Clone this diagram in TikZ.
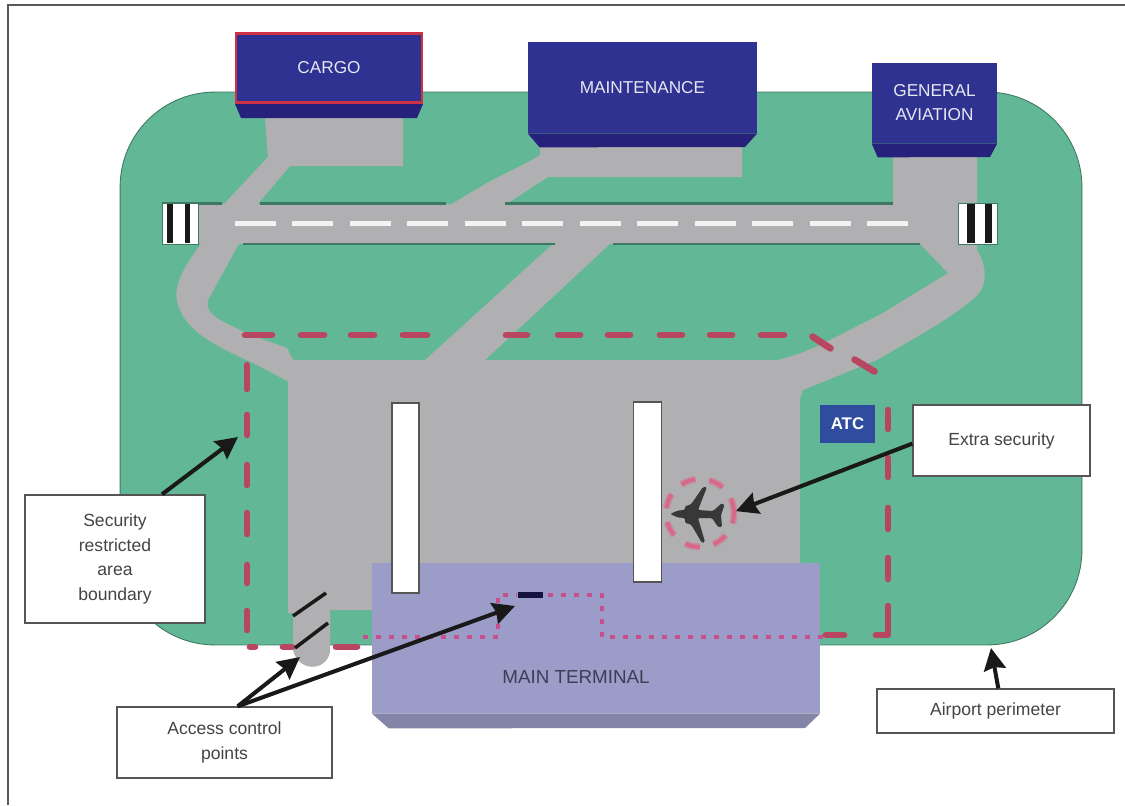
\documentclass[tikz,border=0pt]{standalone}
\usepackage{fontspec}
\setmainfont{Liberation Sans}
\usetikzlibrary{arrows.meta}
\definecolor{figGrass}{RGB}{98,184,150}
\definecolor{figGrassEdge}{RGB}{62,120,98}
\definecolor{figPave}{RGB}{176,176,178}
\definecolor{figNavy}{RGB}{47,50,144}
\definecolor{figNavyDark}{RGB}{38,34,124}
\definecolor{figRed}{RGB}{184,70,96}
\definecolor{figPink}{RGB}{198,80,140}
\definecolor{figRing}{RGB}{216,104,136}
\definecolor{figTerminal}{RGB}{156,156,200}
\definecolor{figTerminalDark}{RGB}{132,132,166}
\definecolor{figBoxEdge}{RGB}{85,85,85}
\definecolor{figText}{RGB}{68,68,68}
\definecolor{figAtc}{RGB}{47,76,158}
\tikzset{
  building/.style={
    rectangle, fill=figNavy, text=white!88!figNavy, align=center, inner sep=0pt,
    font=\fontsize{9.8pt}{13.6pt}\selectfont
  },
  buildingbase/.style={fill=figNavyDark},
  pave/.style={fill=figPave},
  callout/.style={
    rectangle, draw=figBoxEdge, line width=0.8pt, fill=white, text=figText,
    align=center, inner sep=0pt, font=\fontsize{10pt}{14pt}\selectfont
  },
  pointer/.style={-{Stealth[inset=0.05cm,length=0.44cm,width=0.44cm]}, line width=2.3pt, draw=black!90},
  boundary/.style={line width=3.8pt, draw=figRed, line cap=round, shorten >=0.06cm, shorten <=0.06cm},
  boundarydot/.style={line width=2.8pt, draw=figPink, dash pattern=on 0.1cm off 0.16cm},
  edgeline/.style={line width=1.3pt, draw=figGrassEdge},
  gatebar/.style={line width=2pt, draw=black!90}
}
\begin{document}
\begin{tikzpicture}[x=0.02cm,y=-0.02cm]
  \useasboundingbox (0,0) rectangle (1125,805);
  \draw[line width=1pt, draw=black!65] (8,805) -- (8,5) -- (1125,5);
  \node[rectangle, rounded corners=1.9cm, fill=figGrass, draw=figGrassEdge, line width=0.5pt,
    minimum width=19.24cm, minimum height=11.06cm] (airfield) at (601,368.5) {};
  % paved areas
  \fill[pave] (288,360) -- (777,360) -- (803,390) -- (800,398) -- (800,565) -- (372,565) -- (372,610)
    -- (330,610) -- (330,652) .. controls (326,672) and (298,672) .. (293,650) -- (293,613) -- (288,613) -- cycle;
  \fill[pave] (265,118) -- (403,118) -- (403,166) -- (290,166) -- (257,205) -- (223,205) -- (268,157) -- cycle;
  \fill[pave] (450,205) -- (480,187) .. controls (500,175) and (525,165) .. (540,155) -- (540,147) -- (742,147)
    -- (742,177) -- (548,177) -- (505,205) -- cycle;
  \fill[pave] (423,362) -- (555,242) -- (612,242) -- (483,362) -- cycle;
  \fill[pave] (205,240) -- (200,245) .. controls (182,270) and (170,290) .. (180,310)
    .. controls (190,335) and (225,350) .. (253,363) -- (295,385) -- (293,360) -- (287,348)
    .. controls (265,340) and (250,335) .. (240,330) .. controls (220,320) and (205,315) .. (208,300)
    -- (240,242) -- cycle;
  \fill[pave] (893,157) -- (977,157) -- (977,250) .. controls (985,262) and (988,280) .. (980,292)
    .. controls (965,310) and (920,335) .. (877,360) -- (803,390) -- (760,395) -- (760,360) -- (777,360)
    .. controls (800,355) and (820,345) .. (830,340) -- (883,313) -- (948,273) -- (920,244) -- (893,205) -- cycle;
  % runway
  \fill[pave] (198,204) rectangle (958,244);
  \foreach \x/\xx in {162/222, 260/446, 505/893}
    \draw[edgeline] (\x,203.5) -- (\xx,203.5);
  \foreach \x/\xx in {243/555, 613/920}
    \draw[edgeline] (\x,244) -- (\xx,244);
  \foreach \n in {0,...,11}
    \fill[white!85!figPave] ({235+57.45*\n},220.5) rectangle ++(41,5);
  \fill[white, draw=figGrassEdge, line width=0.5pt] (162,203.5) rectangle (198,244);
  \fill[white, draw=figGrassEdge, line width=0.5pt] (958,203.5) rectangle (997,244);
  \foreach \x/\w in {167/6, 185/5, 967/8, 985/7}
    \fill[black!90] (\x,204) rectangle ++(\w,39);
  % buildings
  \node[building, draw=figRed!70!red, line width=1.2pt, minimum width=3.72cm, minimum height=1.38cm] (cargo) at (329,68) {CARGO};
  \fill[buildingbase] (235,104) -- (241,118) -- (417,118) -- (423,104) -- cycle;
  \node[building, minimum width=4.58cm, minimum height=1.82cm] (maintenance) at (642.5,87.5) {MAINTENANCE};
  \fill[buildingbase] (maintenance.south west) -- ++(12,14) -- (745,147) -- (maintenance.south east) -- cycle;
  \node[building, minimum width=2.5cm, minimum height=1.6cm] (aviation) at (934.5,103) {GENERAL\\AVIATION};
  \fill[buildingbase] (aviation.south west) -- ++(6,14) -- (990,157) -- (aviation.south east) -- cycle;
  \node[rectangle, fill=figTerminal, minimum width=8.96cm, minimum height=3cm] (terminal) at (596,638) {};
  \fill[figTerminalDark] (terminal.south west) -- ++(17,15) -- (805,728) -- (terminal.south east) -- cycle;
  \node[text=figText!90!blue, font=\fontsize{10.7pt}{13pt}\selectfont] (terminalname) at (576,677) {MAIN TERMINAL};
  \node[building, fill=figAtc, text=white, font=\fontsize{9.6pt}{12pt}\selectfont\bfseries,
    minimum width=1.1cm, minimum height=0.76cm] (atc) at (847.5,424) {ATC};
  % piers
  \node[rectangle, draw=figBoxEdge, fill=white, line width=0.6pt, minimum width=0.54cm, minimum height=3.8cm] (pierleft) at (405.5,498) {};
  \node[rectangle, draw=figBoxEdge, fill=white, line width=0.6pt, minimum width=0.56cm, minimum height=3.6cm] (pierright) at (647.5,492) {};
  % restricted boundary
  \foreach \x/\xx in {242/275, 298/327, 348/377, 400/430, 503/530, 555/583, 605/633, 657/685, 707/735, 758/787}
    \draw[boundary] (\x,335) -- (\xx,335);
  \draw[boundary] (810,335) -- (833,350);
  \draw[boundary] (852,358) -- (877,373);
  \foreach \y/\yy in {362/392, 412/438, 462/488, 510/537, 562/586, 608/633}
    \draw[boundary] (247,\y) -- (247,\yy);
  \foreach \x/\xx in {247/258, 280/295, 333/360}
    \draw[boundary] (\x,647) -- (\xx,647);
  \foreach \y/\yy in {407/432, 455/480, 505/532, 555/582}
    \draw[boundary] (888,\y) -- (888,\yy);
  \draw[boundary, line join=round] (888,603) -- (888,635) -- (873,635);
  \draw[boundary] (823,635) -- (847,635);
  \draw[boundarydot] (363,637) -- (498,637) -- (498,595) -- (516,595);
  \draw[boundarydot] (548,595) -- (602,595) -- (602,637) -- (823,637);
  \draw[line width=3pt, draw=figNavyDark!50!black] (518,595) -- (543,595);
  \draw[gatebar] (293,616) -- (326,593);
  \draw[gatebar] (295,648) -- (328,623);
  % aircraft under guard
  \node[circle, draw=figRing, line width=2.2pt, dash pattern=on 0.3cm off 0.28cm, minimum size=1.36cm, inner sep=0pt,
    preaction={draw=figRing!45!figPave, line width=4pt}] (ring) at (700,513) {};
  \fill[black!78, rounded corners=0.8pt] (670,514) -- (678,510.5) -- (685,510) -- (685,506) -- (690,505) -- (692,503) -- (703,487) -- (707,487) -- (698,510)
    -- (713,511) -- (722,503) -- (724.5,505) -- (721,515) -- (722,527) -- (718,527) -- (712,518)
    -- (698,518) -- (705,542) -- (702,543) -- (692,526) -- (690,524) -- (685,523) -- (685,518) -- (678,517.5) -- cycle;
  % callouts
  \node[callout, minimum width=3.6cm, minimum height=2.56cm] (security) at (115,559) {Security\\restricted\\area\\boundary};
  \node[callout, minimum width=4.3cm, minimum height=1.42cm] (access) at (224.5,742.5) {Access control\\points};
  \node[callout, minimum width=3.54cm, minimum height=1.42cm] (extra) at (1001.5,440.5) {Extra security};
  \node[callout, minimum width=4.74cm, minimum height=0.88cm] (perimeter) at (995.5,711) {Airport perimeter};
  \coordinate (securityend) at (238,437);
  \coordinate (gateend) at (300,657);
  \coordinate (deskend) at (515,606);
  \coordinate (perimeterend) at (991,648);
  \draw[pointer] (security.54) -- (securityend);
  \draw[pointer] (access.70) -- (gateend);
  \draw[pointer] (access.70) -- (deskend);
  \draw[pointer] (extra.182) -- (ring.3);
  \draw[pointer] (perimeter.83) -- (perimeterend);
\end{tikzpicture}
\end{document}
